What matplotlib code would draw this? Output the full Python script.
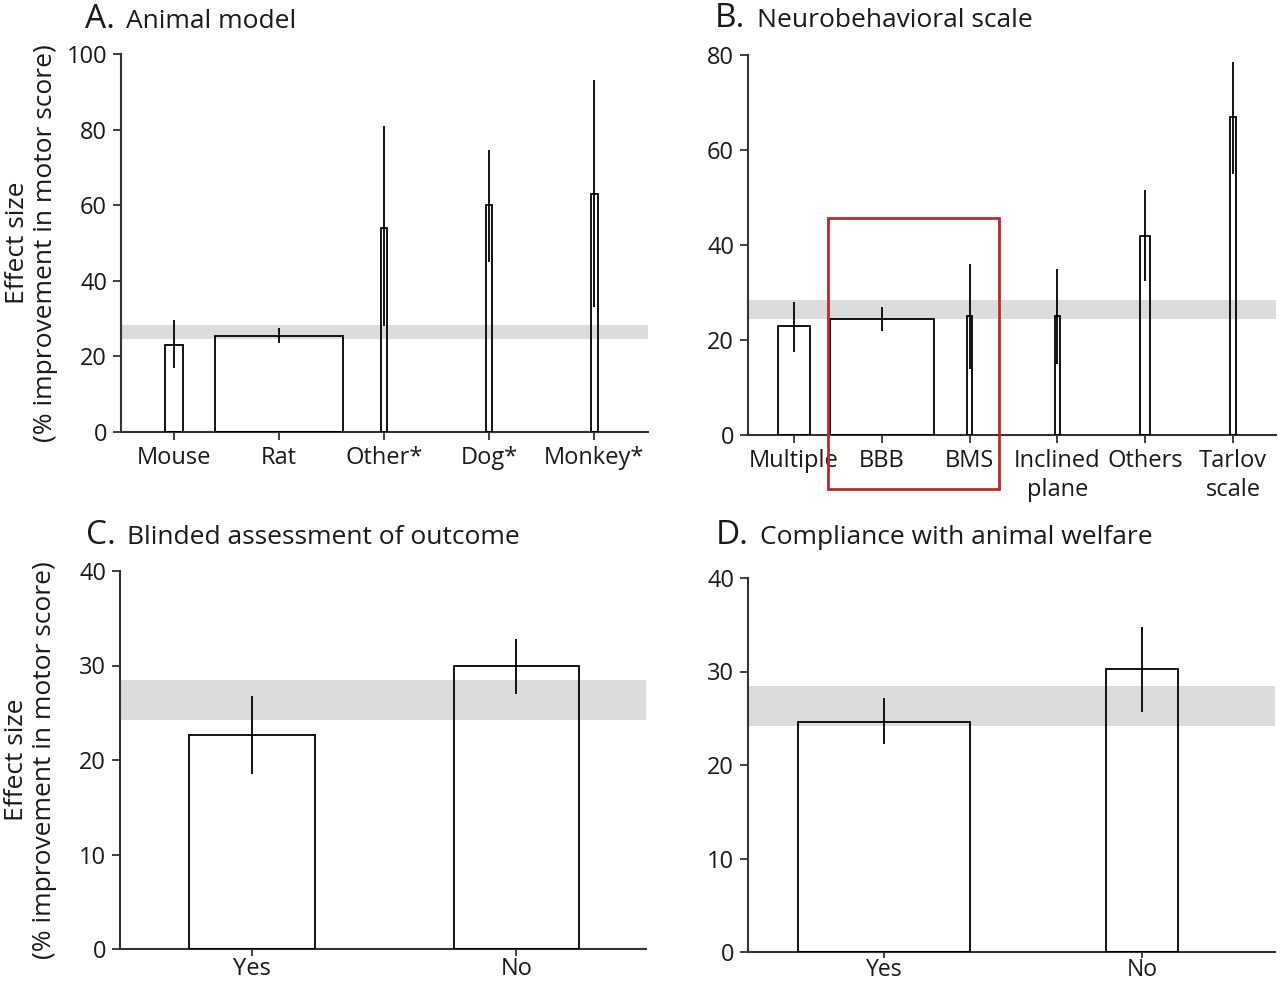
import matplotlib
matplotlib.use("Agg")
import matplotlib.pyplot as plt
from matplotlib.patches import Rectangle

plt.rcParams['font.family'] = ['Open Sans', 'DejaVu Sans']

# ---------------- data ----------------
# Panel A: animal model
cats_A = ["Mouse", "Rat", "Other*", "Dog*", "Monkey*"]
eff_A = [23.0, 25.5, 54.0, 60.0, 63.0]
lo_A = [17.0, 23.5, 28.0, 45.0, 33.0]
hi_A = [29.5, 27.5, 81.0, 74.5, 93.0]
wt_A = [0.17, 1.22, 0.06, 0.06, 0.065]   # relative bar widths (study weight)

# Panel B: neurobehavioral scale
cats_B = ["Multiple", "BBB", "BMS", "Inclined\nplane", "Others", "Tarlov\nscale"]
eff_B = [23.0, 24.5, 25.0, 25.0, 42.0, 67.0]
lo_B = [17.5, 22.0, 14.0, 15.0, 32.5, 55.0]
hi_B = [28.0, 27.0, 36.0, 35.0, 51.5, 78.5]
wt_B = [0.375, 1.19, 0.06, 0.06, 0.11, 0.07]

# Panel C: blinded assessment of outcome
cats_C = ["Yes", "No"]
eff_C = [22.6, 30.0]
lo_C = [18.5, 27.0]
hi_C = [26.8, 32.8]
wt_C = [0.477, 0.473]

# Panel D: compliance with animal welfare
cats_D = ["Yes", "No"]
eff_D = [24.6, 30.3]
lo_D = [22.2, 25.7]
hi_D = [27.2, 34.8]
wt_D = [0.67, 0.28]

# overall pooled estimate (95% CI band)
band_A = (24.5, 28.2)
band_B = (24.4, 28.4)
band_C = (24.2, 28.5)
band_D = (24.2, 28.5)

titles = [("A.", "Animal model"), ("B.", "Neurobehavioral scale"),
          ("C.", "Blinded assessment of outcome"), ("D.", "Compliance with animal welfare")]

# ---------------- figure ----------------
W, H = 1280, 982
fig = plt.figure(figsize=(W / 100, H / 100), dpi=100)

def fx(px):
    return px / W

def fy(py):
    return 1 - py / H

# axes rectangles (pixel bounds: left, right, top, bottom)
rects = {
    "A": (121, 648, 54, 432),
    "B": (748, 1276, 55, 435),
    "C": (120, 646, 571, 949),
    "D": (748, 1275, 578, 952),
}

spine_col = "#333333"

def make_ax(key, pad=4):
    l, r, t, b = rects[key]
    ax = fig.add_axes([fx(l), fy(b), fx(r) - fx(l), fy(t) - fy(b)])
    for s in ("top", "right"):
        ax.spines[s].set_visible(False)
    for s in ("left", "bottom"):
        ax.spines[s].set_color(spine_col)
        ax.spines[s].set_linewidth(1.5)
    ax.tick_params(axis="both", direction="out", length=6, width=1.3,
                   color=spine_col, labelsize=17, labelcolor="#1a1a1a", pad=pad)
    return ax

def draw(ax, cats, eff, lo, hi, wt, band, ylim, yticks, xlim):
    x = list(range(1, len(cats) + 1))
    ax.bar(x, eff, width=wt, color="white", edgecolor="none", zorder=1)
    ax.axhspan(band[0], band[1], color="#dcdcdc", lw=0, zorder=2)
    ax.bar(x, eff, width=wt, fill=False, edgecolor="black", linewidth=1.3, zorder=3)
    yerr = [[e - l for e, l in zip(eff, lo)], [h - e for e, h in zip(eff, hi)]]
    ax.errorbar(x, eff, yerr=yerr, fmt="none", ecolor="black",
                elinewidth=1.3, capsize=0, zorder=4)
    ax.set_xticks(x)
    ax.set_xticklabels(cats)
    ax.set_ylim(*ylim)
    ax.set_yticks(yticks)
    ax.set_xlim(*xlim)

axA = make_ax("A")
draw(axA, cats_A, eff_A, lo_A, hi_A, wt_A, band_A, (0, 100), range(0, 101, 20), (0.495, 5.51))
axB = make_ax("B")
draw(axB, cats_B, eff_B, lo_B, hi_B, wt_B, band_B, (0, 80), range(0, 81, 20), (0.476, 6.49))
axC = make_ax("C")
draw(axC, cats_C, eff_C, lo_C, hi_C, wt_C, band_C, (0, 40), range(0, 41, 10), (0.5, 2.49))
axD = make_ax("D")
draw(axD, cats_D, eff_D, lo_D, hi_D, wt_D, band_D, (0, 40), range(0, 41, 10), (0.473, 2.515))
axC.tick_params(axis="x", pad=1, length=5)
axD.tick_params(axis="x", pad=0, length=4, labelsize=16.5)

for lab in axB.get_xticklabels():
    lab.set_linespacing(1.3)

# y labels
for ax in (axA, axC):
    ax.set_ylabel("Effect size\n(% improvement in motor score)", fontsize=19,
                  linespacing=1.15, color="#1a1a1a")
axA.yaxis.set_label_coords(-0.12, 0.5)
axC.yaxis.set_label_coords(-0.12, 0.5)

# red highlight box in panel B (x in data, y in axes fraction)
trans = axB.get_xaxis_transform()
box = Rectangle((1.386, -0.142), 3.34 - 1.386, 0.57 + 0.142, transform=trans,
                fill=False, edgecolor="#c0272d", linewidth=2.0, clip_on=False, zorder=5)
axB.add_patch(box)

# titles
title_pos = [(85, 126, 28), (715, 757, 27), (86, 127, 544), (716, 760, 544)]
for (letter, text), (xl, xt, yb) in zip(titles, title_pos):
    fig.text(fx(xl), fy(yb), letter, fontsize=24, va="baseline", ha="left", color="#1a1a1a")
    fig.text(fx(xt), fy(yb), text, fontsize=19, va="baseline", ha="left", color="#1a1a1a")

fig.savefig("out.png", dpi=100)
